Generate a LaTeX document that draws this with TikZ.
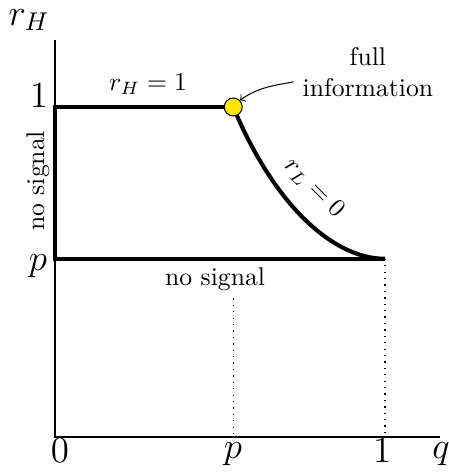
\documentclass[tikz,border=0pt]{standalone}
\usetikzlibrary{arrows}

\tikzset{
  axis/.style={semithick},
  region/.style={line width=1.6pt},
  guide/.style={line width=0.5pt, dotted},
  axlabel/.style={font=\Large},
}

\begin{document}
\begin{tikzpicture}[x=128.7pt, y=128.7pt]
    \useasboundingbox (-0.1667,-0.1061) rectangle (1.1939,1.3242);
    \def\pp{0.54}

    %%%%%%%%%%%%%%%%%%%%%%%%%%%%%%%%%%%%%%%%%%%%%%
    % Axes
    %%%%%%%%%%%%%%%%%%%%%%%%%%%%%%%%%%%%%%%%%%%%%%
    \coordinate (O) at (0,0);
    \coordinate (xend) at (1.167,0);
    \coordinate (yend) at (0,1.203);
    \draw[axis] (xend) -- (O) -- (yend);
    \node[axlabel, inner sep=1pt] (rH) at (-0.0788,1.264) {$r_H$};
    \node[axlabel, anchor=base] (qlab) at (1.17,-0.064) {$q$};

    % tick labels
    \node[axlabel, anchor=base] (x0) at (0.015,-0.078) {$0$};
    \node[axlabel, anchor=base] (xp) at (0.539,-0.064) {$p$};
    \node[axlabel, anchor=base] (x1) at (0.991,-0.078) {$1$};
    \node[axlabel, anchor=base] (y1) at (-0.0485,0.997) {$1$};
    \node[axlabel, anchor=base] (yp) at (-0.0515,0.503) {$p$};

    %%%%%%%%%%%%%%%%%%%%%%%%%%%%%%%%%%%%%%%%%%%%%%
    % Region: corners and boundary
    %%%%%%%%%%%%%%%%%%%%%%%%%%%%%%%%%%%%%%%%%%%%%%
    \coordinate (A) at (0,1);
    \coordinate (B) at (\pp,1);
    \coordinate (C) at (1,\pp);
    \coordinate (D) at (0,\pp);

    % dotted guides down to the q-axis
    \coordinate (Pbot) at (\pp,0);
    \coordinate (Ptop) at (\pp,0.42);
    \coordinate (Cbot) at (1,0);
    \draw[guide] (Ptop) -- (Pbot);
    \draw[guide] (C) -- (Cbot);

    % boundary
    \draw[region, line join=miter] (B) -- (A) -- (D) -- (C);
    \draw[region] (B) .. controls (0.67,0.69) and (0.85,\pp) .. (C);

    % full information point
    \node[circle, draw, fill=yellow!90!orange, inner sep=0pt,
          minimum size=7pt] (full) at (B) {};

    %%%%%%%%%%%%%%%%%%%%%%%%%%%%%%%%%%%%%%%%%%%%%%
    % Labels
    %%%%%%%%%%%%%%%%%%%%%%%%%%%%%%%%%%%%%%%%%%%%%%
    \node (rHone) at (0.282,1.07) {$r_H = 1$};
    \node[rotate=-45] (rLzero) at (0.785,0.755) {$r_L = 0$};
    \node[rotate=90] (nsleft) at (-0.052,0.776) {no signal};
    \node (nsbot) at (0.485,0.478) {no signal};
    \node[align=center] (info) at (0.948,1.106) {full\\information};

    \draw[->, thin] (info.west) ++(0,-0.03) coordinate (infoarr)
        (infoarr) to[out=190, in=35] (full.north east);
\end{tikzpicture}
\end{document}
